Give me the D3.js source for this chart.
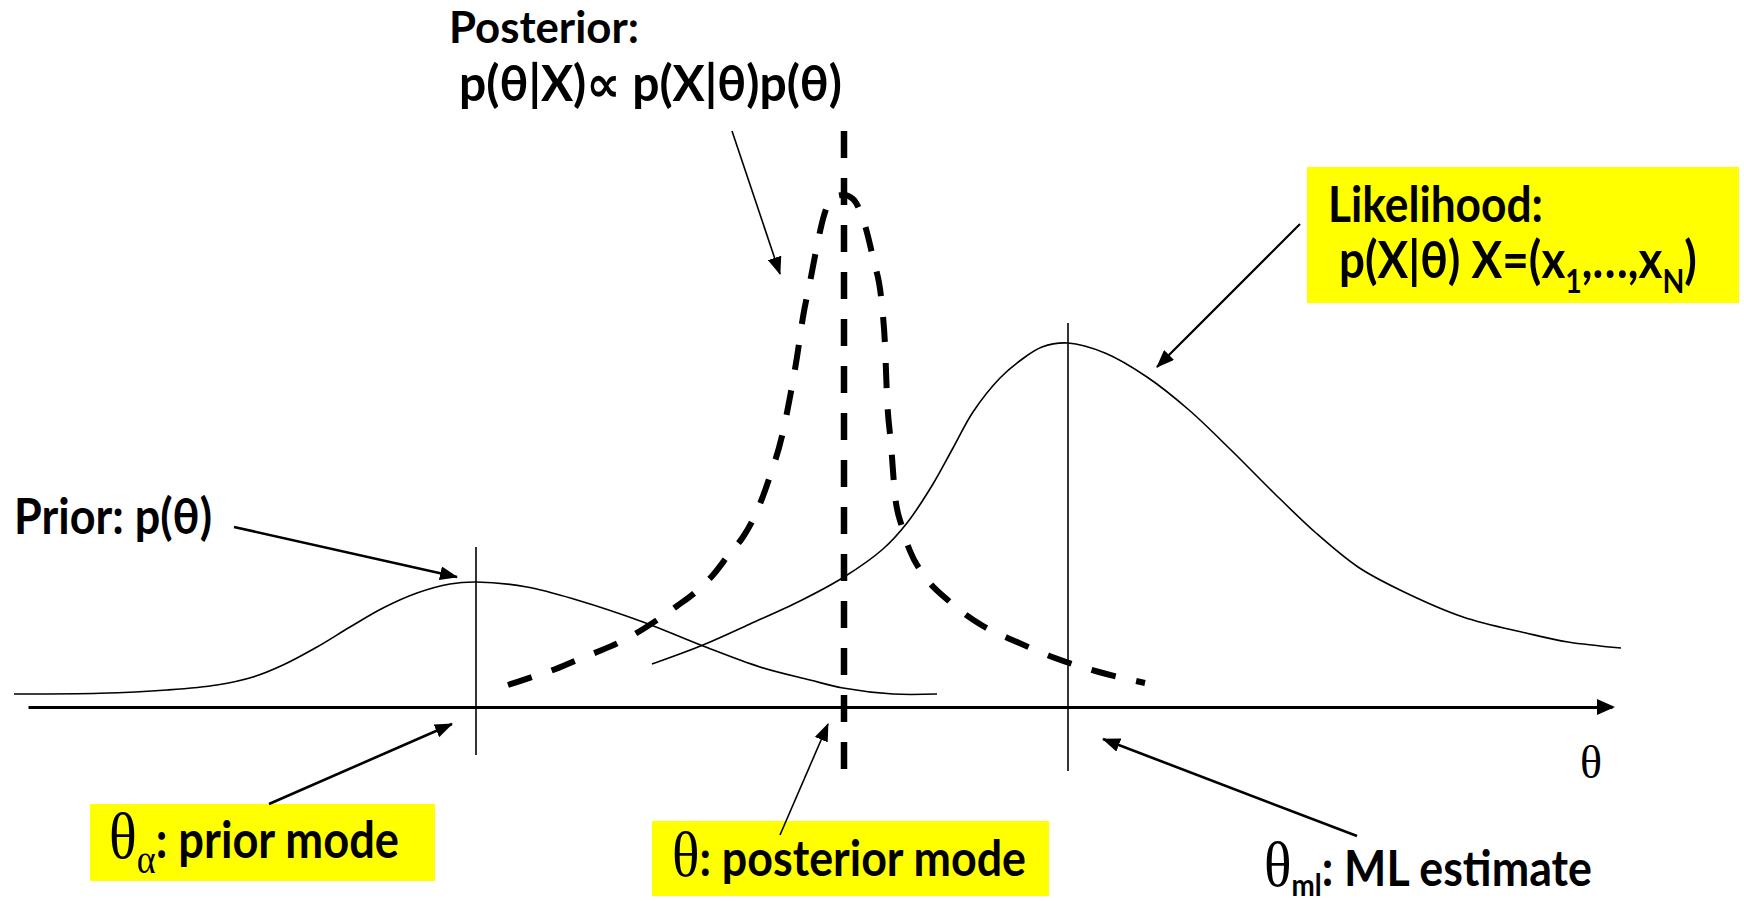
<!DOCTYPE html>
<html><head><meta charset="utf-8">
<script src="https://cdn.jsdelivr.net/npm/d3@7"></script>
<style>html,body{margin:0;padding:0;background:#fff;} svg{display:block;}</style>
</head><body>
<svg id="chart" width="1744" height="901"></svg>
<script>
// ---- data (theta units along the axis, density units above it) ----
const priorTheta   = [-0.14,0.72,1.39,1.89,2.25,2.55,2.89,3.22,3.55,3.89,4.22,4.48,4.99,5.49,6.15,6.75,7.32,7.82,8.15,8.65,9.09];
const priorDensity = [0.13,0.137,0.17,0.22,0.30,0.42,0.60,0.80,0.99,1.14,1.23,1.25,1.20,1.07,0.85,0.61,0.40,0.27,0.19,0.13,0.13];

const likelihoodTheta   = [6.24,6.75,7.22,7.72,8.16,8.55,8.79,9.05,9.25,9.45,9.72,9.93,10.14,10.40,10.77,11.19,11.61,12.03,12.46,12.88,13.30,13.72,14.35,14.98,15.40,15.93];
const likelihoodDensity = [0.43,0.62,0.83,1.06,1.30,1.58,1.84,2.23,2.59,2.95,3.29,3.47,3.60,3.64,3.54,3.30,2.97,2.57,2.14,1.74,1.40,1.17,0.90,0.74,0.65,0.59];

const posteriorTheta   = [4.80,5.04,5.25,5.49,5.69,5.92,6.12,6.32,6.49,6.70,6.85,7.02,7.15,7.29,7.42,7.54,7.62,7.69,7.75,7.82,7.89,7.95,8.05,8.16,8.25,8.35,8.45,8.54,8.57,8.59,8.63,8.67,8.74,8.82,8.95,9.22,9.55,9.89,10.27,10.71,11.17];
const posteriorDensity = [0.22,0.30,0.37,0.47,0.55,0.65,0.76,0.89,1.01,1.17,1.32,1.54,1.70,1.96,2.31,2.71,3.10,3.50,3.90,4.25,4.61,4.88,5.10,5.12,5.08,4.88,4.49,4.01,3.62,3.10,2.63,2.12,1.80,1.56,1.33,1.05,0.81,0.65,0.49,0.35,0.24];

const modeNames  = ["prior", "posterior", "ml"];
const modeTheta  = [4.48, 8.16, 10.40];
const modeTop    = [1.60, 5.76, 3.84];
const modeBottom = [-0.48, -0.63, -0.64];

const axisDomain = [0, 15.84];
const densityDomain = [0, 6];

// ---- scales ----
const svg = d3.select("#chart");
const x = d3.scaleLinear().domain(axisDomain).range([28, 1612]);
const y = d3.scaleLinear().domain(densityDomain).range([707, 107]);

// markers
const defs = svg.append("defs");
defs.append("marker").attr("id","ah").attr("markerUnits","userSpaceOnUse")
  .attr("viewBox","0 0 18 14").attr("refX",17).attr("refY",7)
  .attr("markerWidth",18).attr("markerHeight",14).attr("orient","auto")
  .append("path").attr("d","M0,0 L18,7 L0,14 Z").attr("fill","#000");

const zip = (a,b) => a.map((v,i)=>[v,b[i]]);
const smooth = d3.line().x(d=>x(d[0])).y(d=>y(d[1])).curve(d3.curveCatmullRom.alpha(0.5));
const mono = d3.line().x(d=>x(d[0])).y(d=>y(d[1])).curve(d3.curveMonotoneX);

// yellow boxes (behind)
const boxes = [
  {x:1307, y:167, w:432, h:136},
  {x:90,   y:804, w:345, h:77},
  {x:652,  y:821, w:397, h:75}
];
svg.selectAll("rect.box").data(boxes).join("rect").attr("class","box")
  .attr("x",d=>d.x).attr("y",d=>d.y).attr("width",d=>d.w).attr("height",d=>d.h)
  .attr("fill","#FFFF00");

// curves
svg.append("path").attr("d", smooth(zip(priorTheta, priorDensity)))
  .attr("fill","none").attr("stroke","#000").attr("stroke-width",1.6);
svg.append("path").attr("d", smooth(zip(likelihoodTheta, likelihoodDensity)))
  .attr("fill","none").attr("stroke","#000").attr("stroke-width",1.6);
svg.append("path").attr("d", mono(zip(posteriorTheta, posteriorDensity)))
  .attr("fill","none").attr("stroke","#000").attr("stroke-width",6)
  .attr("stroke-dasharray","25,21");

// axis
const axisG = svg.append("g").attr("transform",`translate(0,${y(0)})`)
  .call(d3.axisBottom(x).tickValues([]).tickSizeOuter(0));
axisG.select(".domain").attr("stroke","#000").attr("stroke-width",3);
svg.append("path")
  .attr("d",`M${x(axisDomain[1])-15},${y(0)-8} L${x(axisDomain[1])+3},${y(0)} L${x(axisDomain[1])-15},${y(0)+8} Z`)
  .attr("fill","#000");

// mode lines
modeNames.forEach((n,i)=>{
  const l = svg.append("line").attr("x1",x(modeTheta[i])).attr("x2",x(modeTheta[i]))
    .attr("y1",y(modeTop[i])).attr("y2",y(modeBottom[i])).attr("stroke","#000");
  if (n==="posterior") l.attr("stroke-width",6.5).attr("stroke-dasharray","27,20");
  else l.attr("stroke-width",1.6);
});

// annotation arrows
const arrows = [
  {x1:732, y1:131, x2:780, y2:274, w:1.6},
  {x1:1300,y1:224, x2:1157,y2:367, w:2.2},
  {x1:234, y1:527, x2:457, y2:577, w:2.6},
  {x1:269, y1:804, x2:452, y2:724, w:2.6},
  {x1:780, y1:835, x2:828, y2:724, w:1.6},
  {x1:1357,y1:836, x2:1103,y2:739, w:2.6}
];
svg.selectAll("line.arrow").data(arrows).join("line").attr("class","arrow")
  .attr("x1",d=>d.x1).attr("y1",d=>d.y1).attr("x2",d=>d.x2).attr("y2",d=>d.y2)
  .attr("stroke","#000").attr("stroke-width",d=>d.w).attr("marker-end","url(#ah)");

// labels
const SANS = "Lato, 'Noto Sans', 'DejaVu Sans', sans-serif";
const SERIF = "'Liberation Serif', 'DejaVu Serif', serif";
const labels = [
  {segs:[{t:"Posterior:"}], x:449, y:43, w:190, k:1.0},
  {segs:[{t:"p(θ|X)∝ p(X|θ)p(θ)"}], x:459, y:101, w:383, k:1.04},
  {segs:[{t:"Prior: p(θ)"}], x:14, y:534, w:198},
  {segs:[{t:"Likelihood:"}], x:1328, y:222, w:215},
  {segs:[{t:"p(X|θ) X=(x"},{t:"1",sub:true},{t:",…,x",unsub:true},{t:"N",sub:true},{t:")",unsub:true}], x:1339, y:278, w:358},
  {segs:[{t:"θ",serif:true},{t:"α",serif:true,sub:true},{t:": prior mode",unsub:true}], x:109, y:858, w:290},
  {segs:[{t:"θ",serif:true},{t:": posterior mode"}], x:672, y:876, w:354},
  {segs:[{t:"θ",serif:true},{t:"ml",sub:true},{t:": ML estimate",unsub:true}], x:1264, y:886, w:328, subDrop:0.2}
];
labels.forEach(L=>{
  const k = L.k || 1.12;
  const t = svg.append("text").attr("x",L.x).attr("y",L.y)
    .attr("font-family",SANS).attr("font-weight",700).attr("fill","#000").attr("font-size",40)
    .attr("transform",`translate(0,${L.y}) scale(1,${k}) translate(0,${-L.y})`);
  L.segs.forEach(s=>{
    const ts = t.append("tspan").text(s.t);
    if (s.serif) ts.attr("font-family",SERIF).attr("font-weight",400).attr("font-size", s.sub ? "80%" : "128%");
    else if (s.sub) ts.attr("font-size","62%");
    if (s.sub) ts.classed("sub",true);
    if (s.unsub) ts.classed("unsub",true);
  });
  const w0 = t.node().getComputedTextLength();
  const fs = 40 * L.w / w0;
  t.attr("font-size", fs);
  const drop = (L.subDrop || 0.3) * fs;
  t.selectAll("tspan.sub").attr("dy", drop);
  t.selectAll("tspan.unsub").attr("dy", -drop);
});
svg.append("text").attr("x",1580).attr("y",778).attr("font-family",SERIF)
  .attr("font-size",46).attr("fill","#000").text("θ");
</script>
</body></html>
